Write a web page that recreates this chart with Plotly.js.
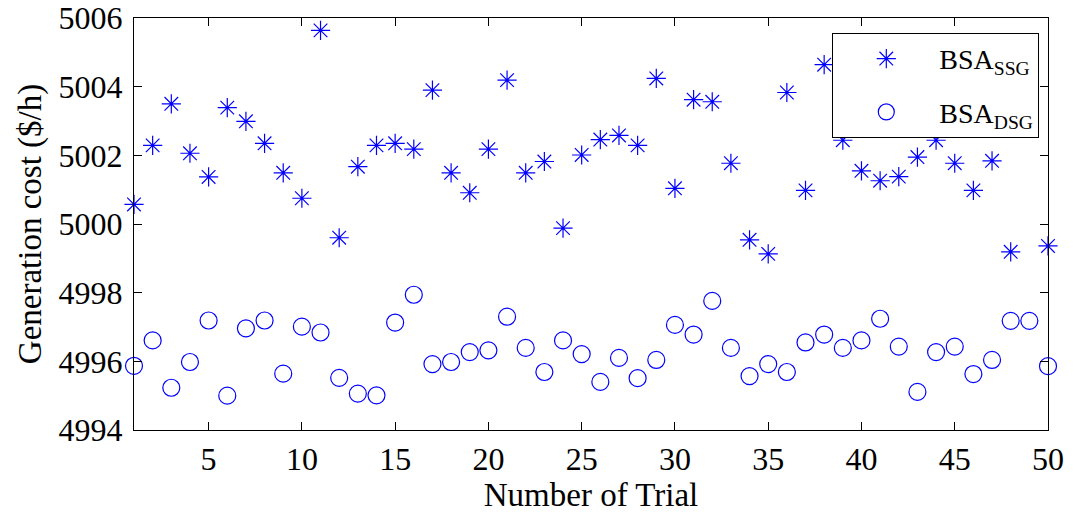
<!DOCTYPE html>
<html>
<head>
<meta charset="utf-8">
<script src="https://cdn.plot.ly/plotly-3.0.1.min.js"></script>
<style>html,body{margin:0;padding:0;background:#fff;}#chart{width:1075px;height:513px;}</style>
</head>
<body>
<div id="chart"></div>
<script>
const trials = Array.from({length: 50}, (_, i) => i + 1);
const bsaSSG = [
  5000.57, 5002.29, 5003.50, 5002.06, 5001.37, 5003.39, 5002.99, 5002.35, 5001.49, 5000.75,
  5005.64, 4999.60, 5001.67, 5002.29, 5002.35, 5002.18, 5003.90, 5001.49, 5000.91, 5002.18,
  5004.19, 5001.49, 5001.82, 4999.88, 5002.01, 5002.46, 5002.58, 5002.29, 5004.24, 5001.04,
  5003.62, 5003.56, 5001.77, 4999.54, 4999.13, 5003.83, 5000.98, 5004.64, 5002.44, 5001.55,
  5001.26, 5001.38, 5001.95, 5002.44, 5001.77, 5000.98, 5001.84, 4999.19, 5003.20, 4999.36
];
const bsaDSG = [
  4995.87, 4996.61, 4995.23, 4995.98, 4997.19, 4995.00, 4996.96, 4997.19, 4995.64, 4997.01,
  4996.84, 4995.52, 4995.06, 4995.01, 4997.13, 4997.94, 4995.92, 4995.98, 4996.27, 4996.32,
  4997.30, 4996.39, 4995.69, 4996.61, 4996.21, 4995.40, 4996.10, 4995.51, 4996.04, 4997.06,
  4996.78, 4997.76, 4996.39, 4995.57, 4995.92, 4995.69, 4996.55, 4996.78, 4996.39, 4996.61,
  4997.24, 4996.43, 4995.11, 4996.27, 4996.43, 4995.63, 4996.04, 4997.18, 4997.18, 4995.86
];
const xTicks = [5, 10, 15, 20, 25, 30, 35, 40, 45, 50];
const yTicks = [4994, 4996, 4998, 5000, 5002, 5004, 5006];

const blue = 'rgb(0,0,255)';
const fam = 'Liberation Serif';

const traces = [
  {x: trials, y: bsaSSG, type: 'scatter', mode: 'markers', name: 'BSA<sub>SSG</sub>', legendgroup: 'a',
   marker: {symbol: 'asterisk-open', size: 16, color: blue, line: {color: blue, width: 1.2}}, cliponaxis: false},
  {x: trials, y: bsaDSG, type: 'scatter', mode: 'markers', name: 'BSA<sub>DSG</sub>', legendgroup: 'b',
   marker: {symbol: 'circle-open', size: 17, color: blue, line: {color: blue, width: 1.2}}, cliponaxis: false}
];

const layout = {
  width: 1075, height: 513,
  margin: {l: 134, r: 27, t: 18, b: 83},
  paper_bgcolor: 'white', plot_bgcolor: 'white',
  font: {family: fam, size: 32, color: 'black'},
  xaxis: {
    showgrid: false, zeroline: false, showline: true, linecolor: 'black', linewidth: 1.2,
    mirror: 'ticks', ticks: 'inside', ticklen: 8, tickwidth: 1, tickcolor: 'black',
    tickfont: {family: fam, size: 32, color: 'black'},
    range: [1, 50], tickvals: xTicks, ticktext: xTicks.map(String),
    title: {text: 'Number of Trial', font: {family: fam, size: 33, color: 'black'}, standoff: 2}
  },
  yaxis: {
    showgrid: false, zeroline: false, showline: true, linecolor: 'black', linewidth: 1.2,
    mirror: 'ticks', ticks: 'inside', ticklen: 8, tickwidth: 1, tickcolor: 'black',
    tickfont: {family: fam, size: 32, color: 'black'},
    range: [4994, 5006], tickvals: yTicks, ticktext: yTicks.map(String), ticklabelstandoff: 4,
    title: {text: 'Generation cost ($/h)', font: {family: fam, size: 33, color: 'black'}, standoff: 6}
  },
  showlegend: true,
  legend: {
    x: 0.764, y: 0.964, xanchor: 'left', yanchor: 'top',
    bgcolor: 'white', bordercolor: 'black', borderwidth: 1,
    font: {family: fam, size: 28, color: 'black'},
    itemwidth: 96, tracegroupgap: 14
  }
};

Plotly.newPlot('chart', traces, layout, {displayModeBar: false, staticPlot: true});
</script>
</body>
</html>
